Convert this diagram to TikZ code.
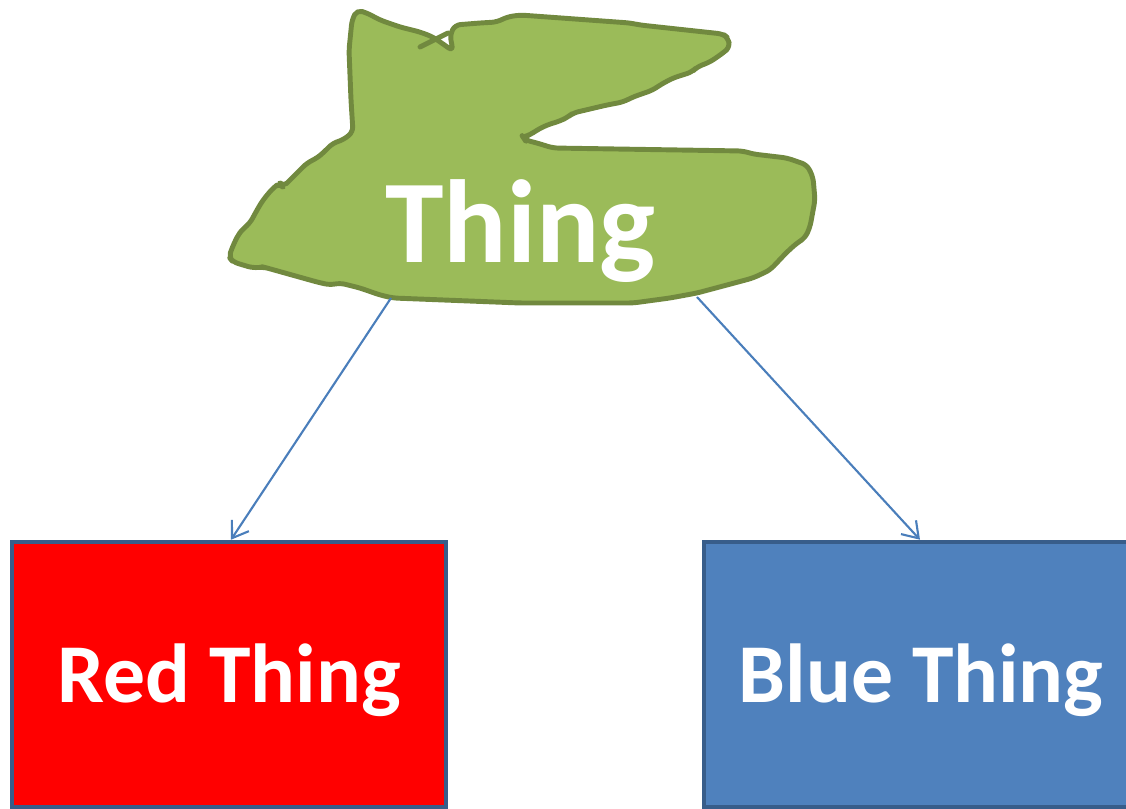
\documentclass[tikz,border=0pt]{standalone}
\usepackage{fontspec}
\setmainfont{Carlito}
\usetikzlibrary{arrows.meta,positioning}
\definecolor{blobfill}{HTML}{9BBB59}
\definecolor{blobline}{HTML}{71893F}
\definecolor{bluefill}{HTML}{4F81BD}
\definecolor{boxline}{HTML}{385D8A}
\definecolor{arrowline}{HTML}{4A7EBB}

\begin{document}
\begin{tikzpicture}[x=0.01cm,y=-0.01cm,
    thingbox/.style={draw=boxline,line width=1.25pt,minimum width=4.34cm,minimum height=2.65cm,
      inner sep=0pt,text=white,font=\bfseries\fontsize{23.8}{26}\selectfont,text height=16.4pt,text depth=0.2pt},
    link/.style={draw=arrowline,line width=0.6pt,-{Straight Barb[length=4.3pt,width=5.8pt]}}]
    \useasboundingbox (0,0) rectangle (1126,809);
    % the freeform blob
    \draw[fill=blobfill,draw=blobline,line width=1.4pt,line join=round,rounded corners=1.5pt]
      (357,10)--(367,13)--(380,20)--(400,27)--(420,32)--(433,37)--(453,51)--(450,35)--(455,25)
      --(480,23)--(497,22)--(507,17)--(520,15)--(630,23)--(640,25)--(723,34)--(728,38)--(730,47)
      --(723,53)--(710,62)--(697,67)--(692,72)--(673,78)--(660,85)--(653,90)--(633,97)--(623,102)
      --(607,105)--(573,113)--(568,117)--(560,121)--(547,125)--(537,130)--(530,135)--(523,137)
      --(525,140)--(537,143)--(553,148)--(743,151)--(753,154)--(787,158)--(807,165)--(813,177)
      --(815,200)--(810,227)--(805,238)--(797,243)--(787,252)--(770,270)--(753,278)--(727,285)
      --(697,293)--(670,298)--(633,303)--(520,303)--(393,298)--(380,295)--(360,288)--(340,283)
      --(330,285)--(317,282)--(267,268)--(263,267)--(253,268)--(243,265)--(233,262)--(229,257)
      --(232,248)--(238,235)--(243,229)--(250,223)--(257,210)--(263,200)--(273,188)--(280,183)
      --(283,187)--(290,180)--(307,163)--(317,158)--(323,153)--(333,143)--(343,140)--(353,132)
      --(351,100)--(349,50)--(352,20)--cycle;
    \draw[blobline,line width=1.4pt,line cap=round](420,47)--(448,33);
    \node[anchor=base,text=white,font=\bfseries\fontsize{33.6}{36}\selectfont] (thing) at (520.5,262) {Thing};
    \coordinate (t1) at (391,298);
    \coordinate (t2) at (697,297);
    % the two boxes
    \node[thingbox,fill=red] (red) at (229,674.5) {Red Thing};
    \node[thingbox,fill=bluefill] (blue) at (921,674.5) {Blue Thing};
    \draw[link](t1)--([xshift=0.02cm]red.north);
    \draw[link](t2)--([xshift=-0.01cm]blue.north);
  \end{tikzpicture}
\end{document}
